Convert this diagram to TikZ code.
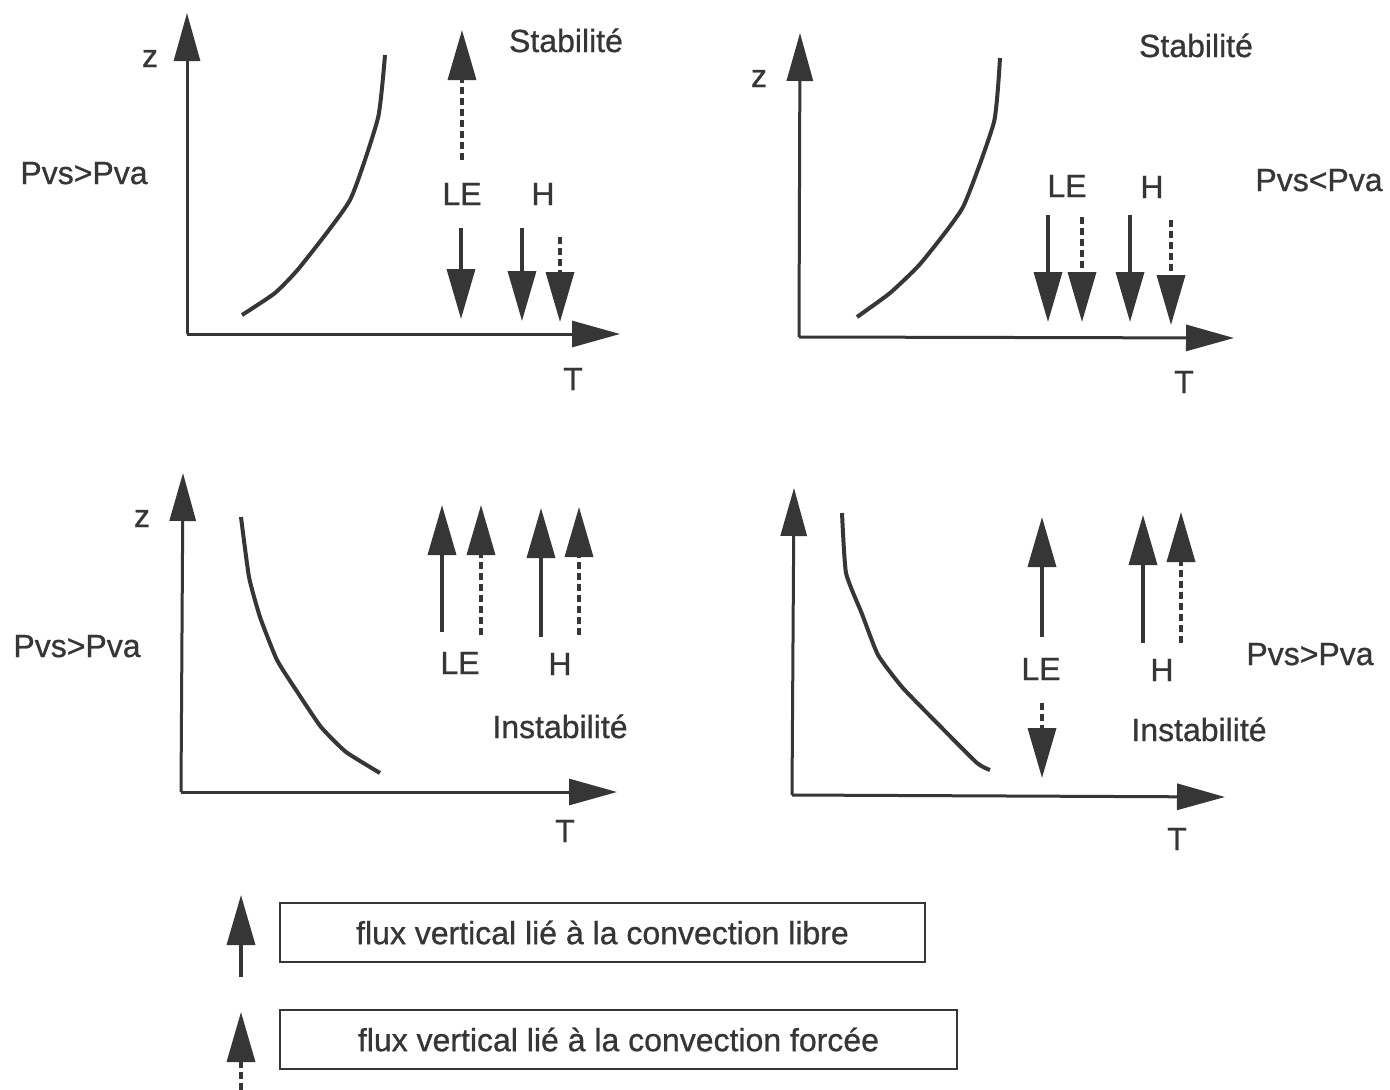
\documentclass[tikz,border=0pt]{standalone}
\usepackage{fontspec}
\setmainfont{Liberation Sans}
\newfontfamily\lblfont{Liberation Sans}[FakeBold=0.8]
\usetikzlibrary{arrows.meta}
\definecolor{ink}{HTML}{363636}
\begin{document}
\begin{tikzpicture}[x=1pt,y=-1pt,
  axis/.style={draw=ink, line width=3pt, -{Triangle[length=48pt,width=26pt]}},
  curve/.style={draw=ink, line width=4pt, line join=round},
  flux/.style={draw=ink, line width=3.5pt, -{Triangle[length=50pt,width=28pt]}},
  fluxdash/.style={flux, dash pattern=on 7pt off 4pt},
  lbl/.style={text=ink, font=\lblfont\fontsize{32}{38}\selectfont, inner sep=0pt, anchor=base},
  legbox/.style={draw=ink, line width=2pt, text=ink, font=\lblfont\fontsize{32}{38}\selectfont, inner sep=0pt, minimum height=59pt}]
\useasboundingbox[fill=white] (0,0) rectangle (1390,1090);

% ---------- Panel 1 (top left)
\coordinate (o1) at (187,334);
\coordinate (y1) at (187,13);
\coordinate (x1) at (620,334);
\draw[axis] (o1) -- (y1);
\draw[axis] (o1) -- (x1);
\draw[curve] plot[smooth, tension=0.3] coordinates {(242,315) (275,293) (300,267) (350,200) (378,118) (385,55)};
\node[lbl] (z1) at (150,67) {z};
\node[lbl] (st1) at (566,52) {Stabilité};
\node[lbl] (p1) at (84,184) {Pvs>Pva};
\node[lbl] (le1) at (462,205) {LE};
\node[lbl] (h1) at (543,205) {H};
\node[lbl] (t1) at (573,390) {T};
\coordinate (a1s) at (462,160); \coordinate (a1e) at (462,30);
\draw[fluxdash] (a1s) -- (a1e);
\coordinate (a2s) at (461,228); \coordinate (a2e) at (461,319);
\draw[flux] (a2s) -- (a2e);
\coordinate (a3s) at (522,228); \coordinate (a3e) at (522,321);
\draw[flux] (a3s) -- (a3e);
\coordinate (a4s) at (560,237); \coordinate (a4e) at (560,322);
\draw[fluxdash] (a4s) -- (a4e);

% ---------- Panel 2 (top right)
\coordinate (o2) at (799,337);
\coordinate (y2) at (800,33);
\coordinate (x2) at (1234,338);
\draw[axis] (o2) -- (y2);
\draw[axis] (o2) -- (x2);
\draw[curve] plot[smooth, tension=0.3] coordinates {(857,317) (890,293) (921,263) (963,207) (994,122) (1000,58)};
\node[lbl] (z2) at (759,87) {z};
\node[lbl] (st2) at (1196,57) {Stabilité};
\node[lbl] (p2) at (1319,191) {Pvs<Pva};
\node[lbl] (le2) at (1067,197) {LE};
\node[lbl] (h2) at (1152,198) {H};
\node[lbl] (t2) at (1184,393) {T};
\coordinate (b1s) at (1048,215); \coordinate (b1e) at (1048,322);
\draw[flux] (b1s) -- (b1e);
\coordinate (b2s) at (1082,217); \coordinate (b2e) at (1082,322);
\draw[fluxdash] (b2s) -- (b2e);
\coordinate (b3s) at (1130,215); \coordinate (b3e) at (1130,322);
\draw[flux] (b3s) -- (b3e);
\coordinate (b4s) at (1171,220); \coordinate (b4e) at (1171,325);
\draw[fluxdash] (b4s) -- (b4e);

% ---------- Panel 3 (bottom left)
\coordinate (o3) at (181,792);
\coordinate (y3) at (183,473);
\coordinate (x3) at (617,792);
\draw[axis] (o3) -- (y3);
\draw[axis] (o3) -- (x3);
\draw[curve] plot[smooth, tension=0.3] coordinates {(241,517) (249,577) (260,617) (277,660) (298,693) (321,727) (346,752) (380,773)};
\node[lbl] (z3) at (142,527) {z};
\node[lbl] (p3) at (77,657) {Pvs>Pva};
\node[lbl] (le3) at (460,674) {LE};
\node[lbl] (h3) at (560,675) {H};
\node[lbl] (in3) at (560,738) {Instabilité};
\node[lbl] (t3) at (565,842) {T};
\coordinate (c1s) at (442,632); \coordinate (c1e) at (442,505);
\draw[flux] (c1s) -- (c1e);
\coordinate (c2s) at (481,635); \coordinate (c2e) at (481,505);
\draw[fluxdash] (c2s) -- (c2e);
\coordinate (c3s) at (541,637); \coordinate (c3e) at (541,508);
\draw[flux] (c3s) -- (c3e);
\coordinate (c4s) at (579,635); \coordinate (c4e) at (579,507);
\draw[fluxdash] (c4s) -- (c4e);

% ---------- Panel 4 (bottom right)
\coordinate (o4) at (792,795);
\coordinate (y4) at (794,488);
\coordinate (x4) at (1225,797);
\draw[axis] (o4) -- (y4);
\draw[axis] (o4) -- (x4);
\draw[curve] plot[smooth, tension=0.3] coordinates {(842,513) (846,573) (862,614) (878,655) (902,687) (936,722) (977,763) (990,770)};
\node[lbl] (le4) at (1041,680) {LE};
\node[lbl] (h4) at (1162,681) {H};
\node[lbl] (in4) at (1199,741) {Instabilité};
\node[lbl] (p4) at (1310,665) {Pvs>Pva};
\node[lbl] (t4) at (1177,850) {T};
\coordinate (d1s) at (1042,637); \coordinate (d1e) at (1042,517);
\draw[flux] (d1s) -- (d1e);
\coordinate (d2s) at (1042,703); \coordinate (d2e) at (1042,778);
\draw[fluxdash] (d2s) -- (d2e);
\coordinate (d3s) at (1143,643); \coordinate (d3e) at (1143,515);
\draw[flux] (d3s) -- (d3e);
\coordinate (d4s) at (1181,643); \coordinate (d4e) at (1181,512);
\draw[fluxdash] (d4s) -- (d4e);

% ---------- Legend
\node[legbox, minimum width=645pt] (leg1) at (602.5,932.5) {flux vertical lié à la convection libre};
\node[legbox, minimum width=677pt] (leg2) at (618.5,1039.5) {flux vertical lié à la convection forcée};
\coordinate (l1s) at (241,977); \coordinate (l1e) at (241,895);
\draw[flux] (l1s) -- (l1e);
\coordinate (l2s) at (241,1090); \coordinate (l2e) at (241,1012);
\draw[fluxdash] (l2s) -- (l2e);
\end{tikzpicture}
\end{document}
